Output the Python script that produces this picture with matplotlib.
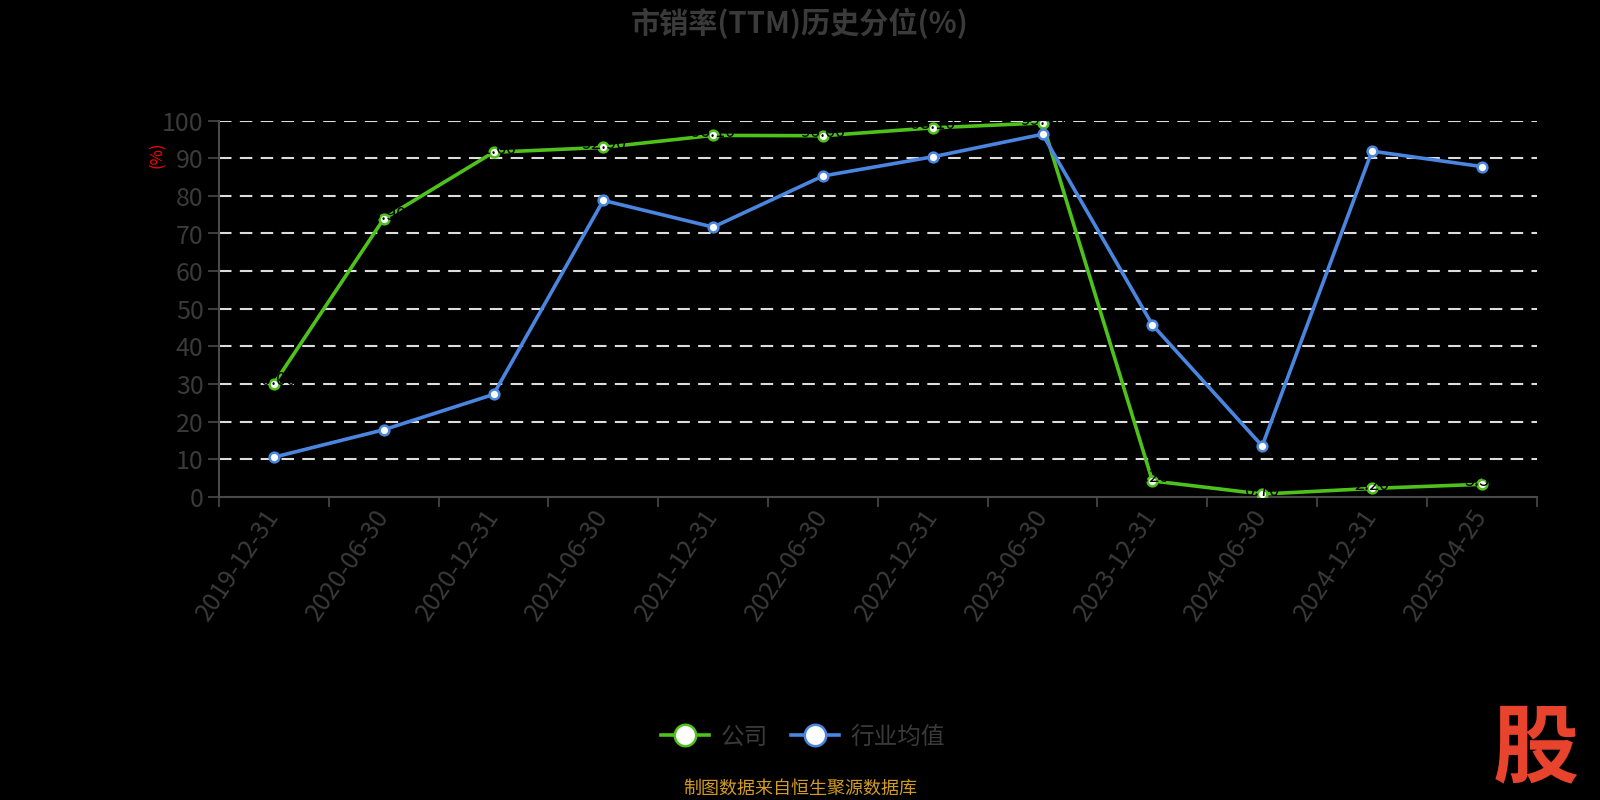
import matplotlib
matplotlib.use("Agg")
import matplotlib.pyplot as plt
import numpy as np

plt.rcParams['font.family'] = ['Noto Sans CJK SC', 'DejaVu Sans']

dates = ['2019-12-31', '2020-06-30', '2020-12-31', '2021-06-30', '2021-12-31', '2022-06-30',
         '2022-12-31', '2023-06-30', '2023-12-31', '2024-06-30', '2024-12-31', '2025-04-25']
company = [30.0, 73.9, 91.6, 92.9, 96.1, 96.0, 98.1, 99.4, 4.2, 0.7, 2.2, 3.3]
industry = [10.5, 17.8, 27.2, 78.8, 71.7, 85.3, 90.4, 96.4, 45.7, 13.5, 91.9, 87.8]

GREEN = '#4fc11b'
BLUE = '#4a86e0'
GREY = '#3a3a3a'
AXIS = '#4a4a4a'

fig = plt.figure(figsize=(16, 8), dpi=100, facecolor='black')
ax = fig.add_axes([219 / 1600, 1 - 496.7 / 800, (1536.7 - 219) / 1600, (496.7 - 120.7) / 800])
ax.set_facecolor('black')

x = np.arange(len(dates))
ax.set_xlim(-0.5, len(dates) - 0.5)
ax.set_ylim(0, 100)

for v in range(10, 101, 10):
    ax.axhline(v, color='#dddddd', lw=1.5, dashes=(6, 4), zorder=1)

ax.plot(x, company, color=GREEN, lw=2.6, marker='o', ms=7, mfc='white', mec=GREEN, mew=1.8,
        zorder=3, label='公司')
ax.plot(x, industry, color=BLUE, lw=2.6, marker='o', ms=7, mfc='white', mec=BLUE, mew=1.8,
        zorder=3, label='行业均值')

# data labels (black on black, as in the original)
for xi, v in zip(x, company):
    ax.annotate(f'{v:.2f}', (xi, v), xytext=(0, -4), textcoords='offset points',
                ha='center', va='bottom', color='black', fontsize=13, zorder=4)

for s in ['top', 'right']:
    ax.spines[s].set_visible(False)
for s in ['left', 'bottom']:
    ax.spines[s].set_color(AXIS)
    ax.spines[s].set_linewidth(1.5)

ax.set_yticks(range(0, 101, 10))
ax.tick_params(axis='y', colors=AXIS, labelcolor=GREY, labelsize=18, length=8, width=1.2, pad=3)
ax.set_xticks(np.arange(-0.5, len(dates), 1.0), minor=False)
ax.set_xticklabels([])
ax.tick_params(axis='x', colors=AXIS, length=7, width=1.2)
ax.set_xticks(x, minor=True)
ax.set_xticklabels(dates, minor=True, rotation=56, ha='right', va='center',
                   rotation_mode='anchor', color=GREY, fontsize=18)
ax.tick_params(axis='x', which='minor', length=0, pad=11)

ax.text(-0.047, 0.909, '(%)', transform=ax.transAxes, rotation=90, color='red',
        fontsize=12, ha='center', va='center')

fig.text(0.5, 1 - 23 / 800, '市销率(TTM)历史分位(%)', ha='center', va='center',
         color=GREY, fontsize=21, fontweight='bold')

leg = fig.legend(loc='center', bbox_to_anchor=(0.502, 1 - 737 / 800), ncol=2, frameon=False,
                 fontsize=17, handlelength=2.0, columnspacing=1.0, handletextpad=0.5,
                 markerscale=2.2)
for t in leg.get_texts():
    t.set_color(GREY)

fig.text(0.5, 1 - 789 / 800, '制图数据来自恒生聚源数据库', ha='center', va='center',
         color='#d39b22', fontsize=13)
fig.text(1536 / 1600, 1 - 750 / 800, '股', ha='center', va='center', color='#e8432c',
         fontsize=62, fontweight='bold', style='italic')

fig.savefig('out.png', dpi=100, facecolor='black')
